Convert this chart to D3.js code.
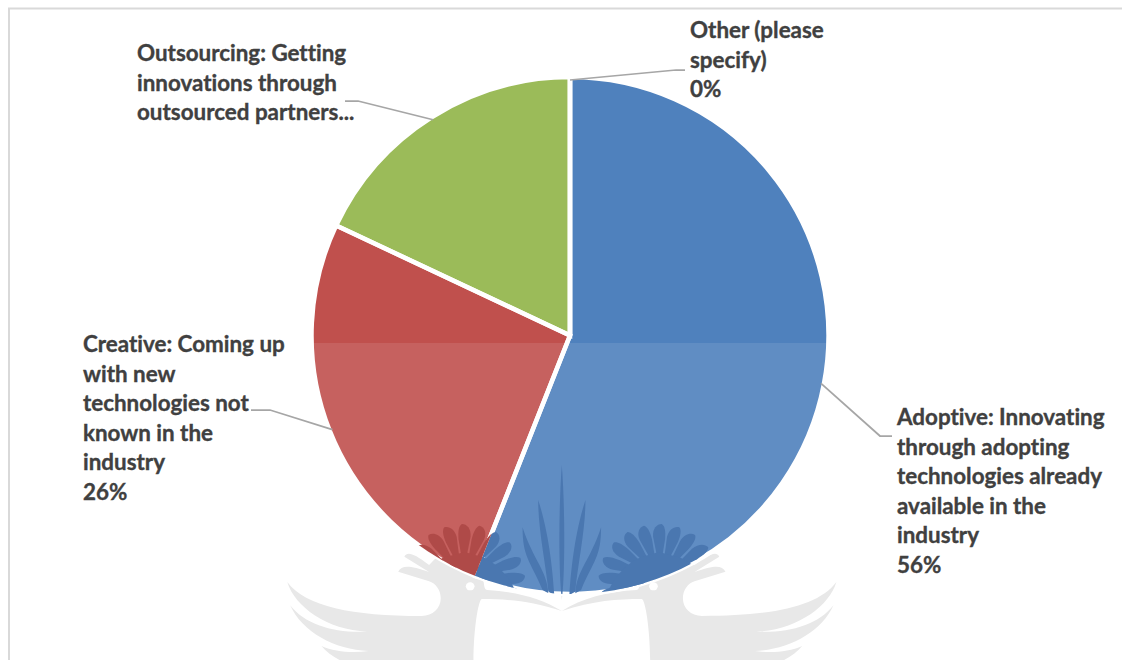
<!DOCTYPE html>
<html>
<head>
<meta charset="utf-8">
<script src="https://cdn.jsdelivr.net/npm/d3@7/dist/d3.min.js"></script>
<style>
  html, body { margin: 0; padding: 0; background: #fff; }
  svg { display: block; }
  text { font-family: Lato, "Open Sans", sans-serif; font-weight: 700; font-size: 22.4px; fill: #404040; stroke: #404040; stroke-width: 0.35px; font-variant-ligatures: none; }
</style>
</head>
<body>
<svg id="chart" width="1122" height="660"></svg>
<script>
// Survey shares, clockwise from twelve o'clock
const categories = ["Adoptive", "Creative", "Outsourcing", "Other"];
const shares = [56, 26, 18, 0];
const sliceColors = ["#4F81BD", "#C0504D", "#9BBB59", "#8064A2"];
// Tint of the crest where it crosses the first two slices
const crestTints = ["#4A77B0", "#AF4A48"];

// Wrapped label text for each category
const labelLines = [
  ["Adoptive: Innovating", "through adopting", "technologies already", "available in the", "industry", "56%"],
  ["Creative: Coming up", "with new", "technologies not", "known in the", "industry", "26%"],
  ["Outsourcing: Getting", "innovations through", "outsourced partners..."],
  ["Other (please", "specify)", "0%"]
];
const labelOrigins = [[897, 425], [83, 352], [137, 61], [690, 38]];
// Each leader runs slice edge -> elbow -> label end
const leaderElbows = [[[880, 436], [892, 436]], [[270, 410], [251, 410]], [[358, 101], [345, 101]], [[676, 70], [685, 70]]];

const W = 1122, H = 660, cx = 570, cy = 335.5, R = 258.5, bandTop = 343, lineGap = 29.5;
const svg = d3.select("#chart");

// Page frame
svg.append("path").attr("d", `M9,${H}V8.5H${W}`).attr("fill", "none").attr("stroke", "#d9d9d9").attr("stroke-width", 2);

// Watermark crest, defined on one half and mirrored about its axis
const axisX = 775;
const crestTransform = `translate(280,450) scale(${1 / 2.75},${1 / 3})`;
const mirror = side => (side === 1 ? null : `translate(${2 * axisX},0) scale(-1,1)`);
const crest = svg.append("g").attr("transform", crestTransform);
const wingHalf = "M775,483 C860,452 930,447 995,447 C1005,450 1018,540 1018,640 L1370,640 C1395,625 1420,610 1436,588 C1400,606 1350,610 1306,603 C1400,600 1490,545 1522,466 C1480,525 1400,550 1310,545 C1420,540 1510,470 1530,396 C1480,470 1350,498 1160,498 C1130,498 1108,475 1108,445 C1108,420 1122,400 1140,394 L1225,365 C1215,345 1195,345 1140,366 L1208,320 C1200,305 1185,308 1140,345 L1100,300 L990,395 C988,410 988,418 980,420 C900,425 830,445 775,483 Z";
[1, -1].forEach(side => {
  const g = crest.append("g").attr("transform", mirror(side));
  g.append("path").attr("d", wingHalf).attr("fill", "#e8e8e8");
  g.append("circle").attr("cx", 1027).attr("cy", 409).attr("r", 12).attr("fill", "#fff");
});

// Leaf blades as outlines: the tip, then the base width
const blades = [[775, 45, 9, 450], [710, 150, 9, 425], [667, 232, 9, 420]];
function bladePath(tx, ty, w, by, m) {
  const dx = 775 - tx, bx = tx + dx * 0.62;
  if (dx === 0) {
    return `M${tx},${ty} C${tx + w},${ty + 130} ${tx + w},${by - 80} ${tx},${by} C${tx - w},${by - 80} ${tx - w},${ty + 130} ${tx},${ty}Z`;
  }
  const f = x => (m ? 2 * axisX - x : x);
  return `M${f(tx)},${ty} C${f(tx + 30)},${ty + 100} ${f(bx)},${by - 60} ${f(bx + 4)},${by + 10} L${f(bx - 12)},${by} C${f(tx + 20)},${by - 90} ${f(tx)},${ty + 90} ${f(tx)},${ty}Z`;
}
const bladeShapes = blades.flatMap(([tx, ty, w, by]) =>
  tx === 775 ? [bladePath(tx, ty, w, by, 0)] : [bladePath(tx, ty, w, by, 0), bladePath(tx, ty, w, by, 1)]);
crest.selectAll("path.tail").data(bladeShapes).join("path").attr("class", "tail").attr("d", d => d).attr("fill", "#e8e8e8");

// Pie fills
const pie = d3.pie().value(d => d).sort(null);
const arcs = pie(shares);
const arc = d3.arc().innerRadius(0).outerRadius(R);
const plot = svg.append("g").attr("transform", `translate(${cx},${cy})`);
plot.selectAll("path.slice").data(arcs).join("path")
  .attr("class", "slice")
  .attr("d", arc)
  .attr("fill", (d, i) => sliceColors[i]);

// Lighter band across the lower part of the pie
svg.append("clipPath").attr("id", "pieClip").append("circle").attr("cx", cx).attr("cy", cy).attr("r", R);
svg.append("rect")
  .attr("x", cx - R - 2).attr("y", bandTop).attr("width", 2 * R + 4).attr("height", H - bandTop)
  .attr("clip-path", "url(#pieClip)").attr("fill", "#fff").attr("opacity", 0.1);

// Crest fans and blades, drawn once per slice they cross and clipped to that slice
const petalAngles = [-108, -89, -70, -51, -34, -17, 0, 17, 34, 52];
crestTints.forEach((tint, i) => {
  svg.append("clipPath").attr("id", `sliceClip${i}`)
    .append("path").attr("transform", `translate(${cx},${cy})`).attr("d", arc(arcs[i]));
  const layer = svg.append("g").attr("clip-path", `url(#sliceClip${i})`)
    .append("g").attr("transform", crestTransform);
  layer.selectAll("path.blade").data(bladeShapes).join("path").attr("class", "blade").attr("d", d => d).attr("fill", tint);
  [1, -1].forEach(side => {
    const hub = layer.append("g").attr("transform", mirror(side)).append("g").attr("transform", "translate(1042,388)");
    hub.selectAll("path.petal").data(petalAngles).join("path")
      .attr("class", "petal")
      .attr("fill", tint)
      .attr("transform", a => `rotate(${a})`)
      .attr("d", "M0,-40 L-16,-128 C-18,-152 -6,-166 8,-166 C16,-160 19,-145 17,-120 L5,-40 Z");
    hub.append("path").attr("fill", tint).attr("d", "M-135,25 C-120,-10 -85,-50 -50,-66 L0,-82 L60,-65 L130,-20 L40,40 Z");
  });
});

// White slice borders on top of everything inside the pie
plot.selectAll("path.border").data(arcs).join("path")
  .attr("class", "border")
  .attr("d", arc)
  .attr("fill", "none")
  .attr("stroke", "#fff")
  .attr("stroke-width", 4.5);

// Leader lines from each slice edge to its label
const rimPoint = d => {
  const a = (d.startAngle + d.endAngle) / 2;
  return [cx + (R - 3) * Math.sin(a), cy - (R - 3) * Math.cos(a)];
};
svg.selectAll("path.leader").data(arcs).join("path")
  .attr("class", "leader")
  .attr("fill", "none").attr("stroke", "#a6a6a6").attr("stroke-width", 1.75)
  .attr("d", (d, i) => d3.line()([rimPoint(d), ...leaderElbows[i]]));

// Labels
categories.forEach((c, i) => {
  const t = svg.append("text").attr("x", labelOrigins[i][0]).attr("y", labelOrigins[i][1]);
  labelLines[i].forEach((line, k) => {
    t.append("tspan").attr("x", labelOrigins[i][0]).attr("y", labelOrigins[i][1] + k * lineGap).text(line);
  });
});
</script>
</body>
</html>
